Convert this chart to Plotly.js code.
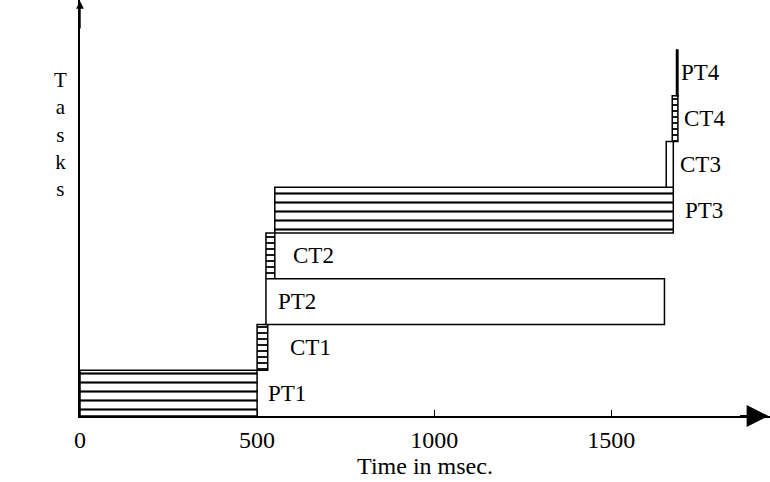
<!DOCTYPE html>
<html>
<head>
<meta charset="utf-8">
<script src="https://cdn.plot.ly/plotly-3.0.1.min.js"></script>
<style>html,body{margin:0;padding:0;background:#fff;}#chart{width:770px;height:482px;}</style>
</head>
<body>
<div id="chart"></div>
<script>
// ---- data (ms) ----
var tasks   = ["PT1", "CT1", "PT2", "CT2", "PT3", "CT3", "CT4", "PT4"];
var startMs = [0,     500,   525,   525,   550,   1655,  1672,  1684];
var endMs   = [500,   530,   1650,  550,   1675,  1675,  1688,  1688];
var tickVals = [0, 500, 1000, 1500];
var tickText = ["0", "500", "1000", "1500"];

// ---- styles ----
var kind = ["hatch", "ladder", "plain", "ladder", "hatch", "plain", "ladder", "plain"];
var labelAt = ["end", "end", "start", "end", "end", "end", "end", "end"];
var labelShift = [9, 20, 10, 16, 10, 5, 4, 1];
var FONT = "Liberation Serif, Times New Roman, serif";

function group(k) {
  var y = [], x = [], b = [];
  for (var i = 0; i < tasks.length; i++) {
    if (kind[i] === k) { y.push(tasks[i]); x.push(endMs[i] - startMs[i]); b.push(startMs[i]); }
  }
  return {y: y, x: x, base: b};
}
var patterns = {
  hatch:  {shape: "-", size: 9, solidity: 0.24, fgcolor: "#000", bgcolor: "#fff", fillmode: "replace"},
  ladder: {shape: "-", size: 6, solidity: 0.3, fgcolor: "#000", bgcolor: "#fff", fillmode: "replace"},
  plain:  {shape: "", fgcolor: "#000", bgcolor: "#fff"}
};
var traces = ["hatch", "ladder", "plain"].map(function (k) {
  var g = group(k);
  return {
    type: "bar", orientation: "h", y: g.y, x: g.x, base: g.base,
    width: 1,
    marker: {color: "#fff", pattern: patterns[k], line: {color: "#000", width: 1.5}},
    hoverinfo: "skip", showlegend: false
  };
});

var annotations = tasks.map(function (t, i) {
  return {
    x: labelAt[i] === "end" ? endMs[i] : startMs[i], y: t, xref: "x", yref: "y",
    text: t, showarrow: false, xanchor: "left", yanchor: "middle", xshift: labelShift[i],
    font: {family: FONT, size: 23, color: "#000"}
  };
});
// axis arrows
annotations.push({x: 0.998, y: 0, xref: "paper", yref: "paper", ax: -30, ay: 0, text: "",
  showarrow: true, arrowhead: 2, arrowsize: 2.2, arrowwidth: 2, arrowcolor: "#000"});
annotations.push({x: 0, y: 1, xref: "paper", yref: "paper", ax: 0, ay: 30, text: "",
  showarrow: true, arrowhead: 2, arrowsize: 1.1, arrowwidth: 1.4, arrowcolor: "#000"});
// vertical y-axis title
annotations.push({x: (60 - 80) / 690, y: 1 - 134 / 416, xref: "paper", yref: "paper",
  xanchor: "center", yanchor: "middle", text: "T<br>a<br>s<br>k<br>s",
  showarrow: false, font: {family: FONT, size: 21, color: "#000"}, align: "center"});

var layout = {
  width: 770, height: 482,
  margin: {l: 80, r: 0, t: 0, b: 66},
  paper_bgcolor: "#fff", plot_bgcolor: "#fff",
  barmode: "overlay", bargap: 0,
  font: {family: FONT, color: "#000"},
  xaxis: {
    range: [0, 1948], tickvals: tickVals, ticktext: tickText,
    ticks: "inside", ticklen: 6, tickwidth: 1.2, tickcolor: "#000",
    showline: true, linecolor: "#000", linewidth: 2,
    showgrid: false, zeroline: false,
    tickfont: {family: FONT, size: 24, color: "#000"}, ticklabelstandoff: 1,
    title: {text: "Time in msec.", font: {family: FONT, size: 24, color: "#000"}, standoff: 0}
  },
  yaxis: {
    type: "category", categoryorder: "array", categoryarray: tasks,
    range: [-0.5, 8.593], showticklabels: false, ticks: "",
    showline: true, linecolor: "#000", linewidth: 1.6,
    showgrid: false, zeroline: false
  },
  annotations: annotations
};

Plotly.newPlot("chart", traces, layout, {staticPlot: true});
</script>
</body>
</html>
